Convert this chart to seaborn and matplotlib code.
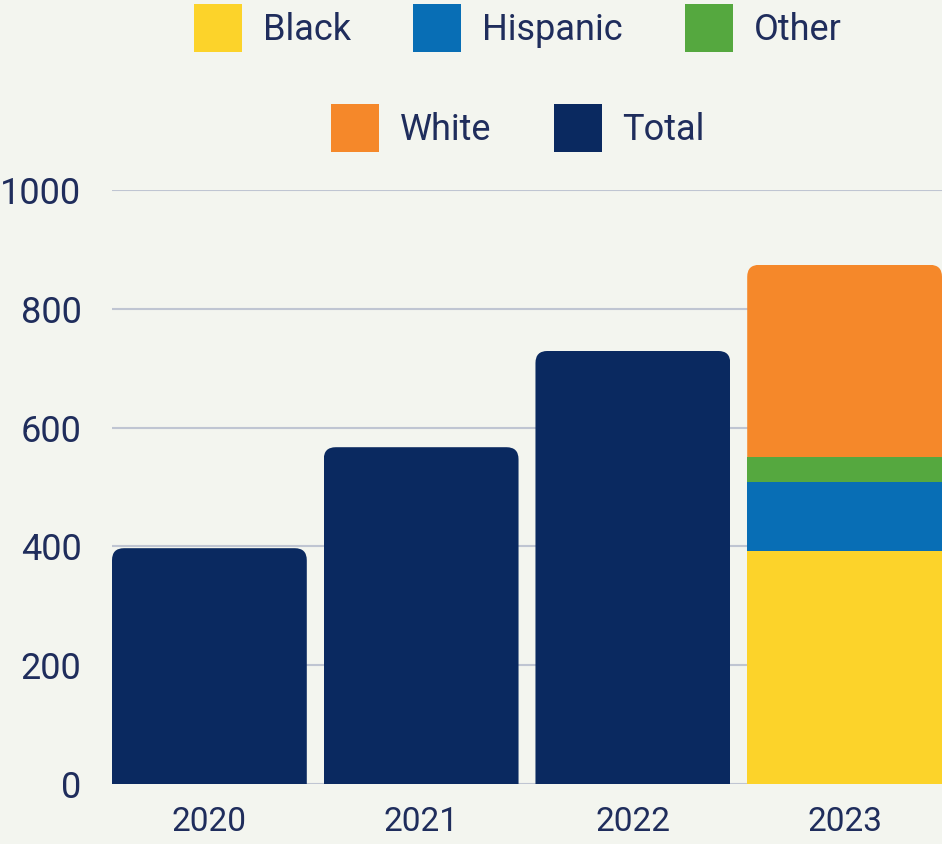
import matplotlib
matplotlib.use("Agg")
import matplotlib.pyplot as plt
import seaborn as sns
import numpy as np
import pandas as pd
from matplotlib.patches import FancyBboxPatch, Patch

# --------------
# Data
# --------------
years = ["2020", "2021", "2022", "2023"]
total_years = ["2020", "2021", "2022"]
total_values = [397, 567, 729]

groups = ["Black", "Hispanic", "Other", "White"]
values_2023 = [392, 116, 42, 324]

colors = {
    "Black": "#FCD32A",
    "Hispanic": "#086EB5",
    "Other": "#55A83F",
    "White": "#F5882A",
    "Total": "#0A2960",
}
bg = "#F3F5EF"
text_color = "#1F2D5C"
grid_color = "#BFC5D2"

# --------------
# Style
# --------------
sns.set_style("white")
plt.rcParams["font.family"] = ["Roboto", "DejaVu Sans"]

fig = plt.figure(figsize=(9.42, 8.44), dpi=100, facecolor=bg)
ax = fig.add_axes([112 / 942, 60 / 844, 830 / 942, 594 / 844])
ax.set_facecolor(bg)

bar_w = 0.92

# Totals for the first three years
df_total = pd.DataFrame({"year": total_years, "value": total_values})
sns.barplot(data=df_total, x="year", y="value", order=years, color=colors["Total"],
            width=bar_w, saturation=1, errorbar=None, linewidth=0, ax=ax, zorder=3)
top_bars = list(ax.patches)

# 2023 stacked: draw cumulative heights, tallest first
cum = np.cumsum(values_2023)
for i in range(len(groups) - 1, -1, -1):
    n_before = len(ax.patches)
    sns.barplot(x=["2023"], y=[cum[i]], order=years, color=colors[groups[i]],
                width=bar_w, saturation=1, errorbar=None, linewidth=0, ax=ax, zorder=3)
    if i == len(groups) - 1:
        top_bars += ax.patches[n_before:]

ax.set_xlim(-bar_w / 2, len(years) - 1 + bar_w / 2)
ax.set_ylim(0, 1000)
ax.set_yticks(range(0, 1001, 200))

# rounded top corners (clip each top bar with a rounded box that reaches below 0)
r_px = 12
x_per_px = (ax.get_xlim()[1] - ax.get_xlim()[0]) / ax.bbox.width
y_per_px = (ax.get_ylim()[1] - ax.get_ylim()[0]) / ax.bbox.height
rx = r_px * x_per_px
ry = r_px * y_per_px
for bar in top_bars:
    x0, w, h = bar.get_x(), bar.get_width(), bar.get_height()
    clip = FancyBboxPatch((x0, -100), w, h + 100,
                          boxstyle=f"round,pad=0,rounding_size={rx}",
                          mutation_aspect=ry / rx, transform=ax.transData)
    bar.set_clip_path(clip)

ax.yaxis.grid(True, color=grid_color, linewidth=1.5)
ax.set_axisbelow(True)
for s in ax.spines.values():
    s.set_visible(False)
ax.set_xlabel("")
ax.set_ylabel("")
ax.tick_params(axis="y", length=0, pad=22, labelsize=26, labelcolor=text_color)
ax.tick_params(axis="x", length=0, pad=16, labelsize=24, labelcolor=text_color)

# --------------
# Legend, two centred rows
# --------------
handles = [Patch(facecolor=colors[k], edgecolor="none", label=k) for k in groups + ["Total"]]
leg_kw = dict(loc="center", frameon=False, fontsize=26, labelcolor=text_color,
              handlelength=1.33, handleheight=1.67, handletextpad=0.58,
              columnspacing=1.72, borderaxespad=0, borderpad=0)
fig.legend(handles=handles[:3], ncol=3, bbox_to_anchor=(518 / 942, 1 - 28 / 844), **leg_kw)
fig.legend(handles=handles[3:], ncol=2, bbox_to_anchor=(518 / 942, 1 - 128 / 844), **leg_kw)

fig.savefig("out.png", dpi=100, facecolor=bg)
